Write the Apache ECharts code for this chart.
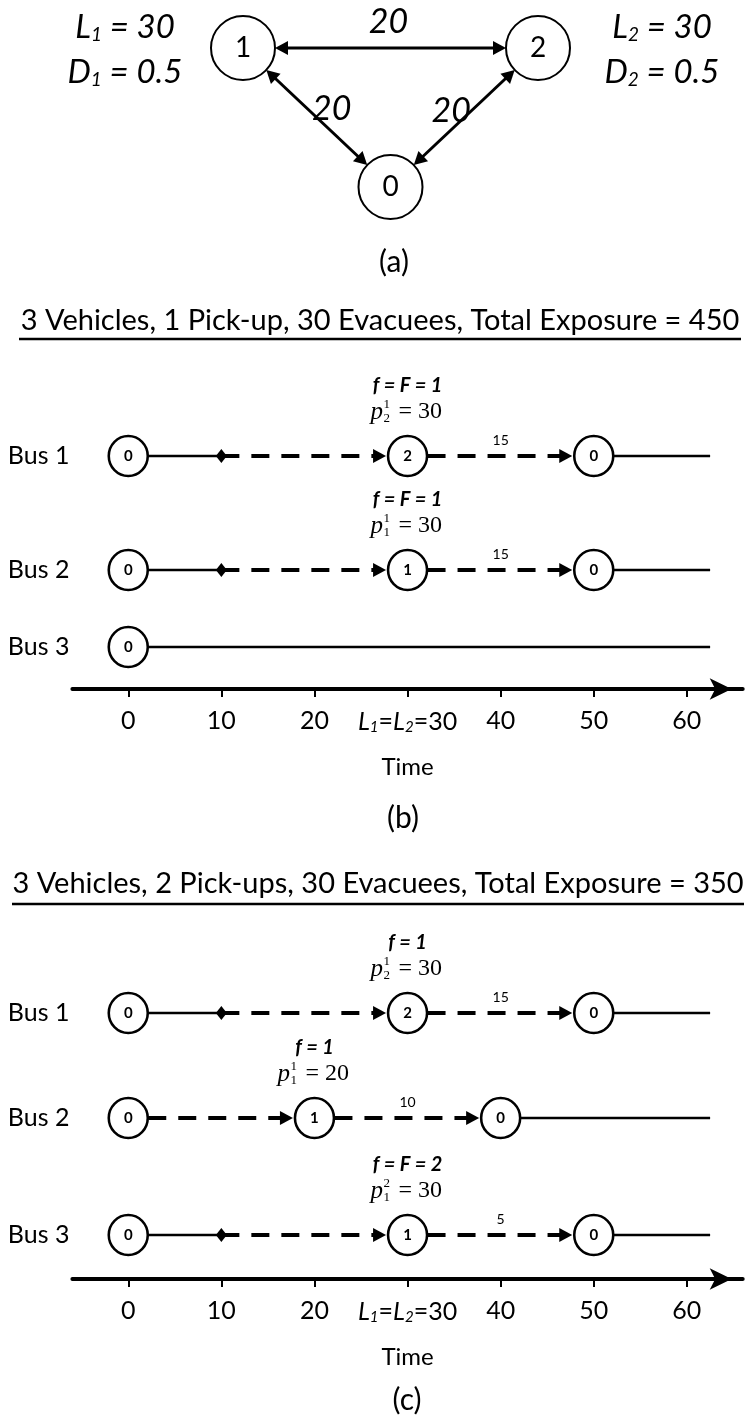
<!DOCTYPE html>
<html><head><meta charset="utf-8">
<script src="https://cdn.jsdelivr.net/npm/echarts@6/dist/echarts.min.js"></script>
<style>html,body{margin:0;padding:0;background:#fff}#c{width:746px;height:1424px}</style>
</head><body><div id="c"></div>
<script>
// ================= DATA =================
// (a) network
const netNodes = ['0', '1', '2'];
const netNodeX = [0.5, 0, 1];
const netNodeY = [0, 1, 1];
const netLinks = [['1', '2'], ['1', '0'], ['2', '0']];
const netTravelTimes = [20, 20, 20];
const evacNodes = ['1', '2'];
const evacLoad = [30, 30];
const evacDelay = [0.5, 0.5];

// time axis
const timeTicks = [0, 10, 20, 30, 40, 50, 60];
const tickLabels = ['0', '10', '20', '{i|L}{s|1}{n|=}{i|L}{s|2}{n|=30}', '40', '50', '60'];
const timeMin = -6, timeMax = 66, horizon = 62.5;
const busNames = ['Bus 1', 'Bus 2', 'Bus 3'];

// (b)
const titleB = '3 Vehicles, 1 Pick-up, 30 Evacuees, Total Exposure = 450';
const stopTimesB = [[0, 30, 50], [0, 30, 50], [0]];
const stopNodesB = [['0', '2', '0'], ['0', '1', '0'], ['0']];
const departTimesB = [[10], [10], []];
const waitLegsB = [[[0, 10], [50, horizon]], [[0, 10], [50, horizon]], [[0, horizon]]];
const travelLegsB = [[[10, 30], [30, 50]], [[10, 30], [30, 50]], []];
const returnTravelB = [15, 15, null];
const pickupTimeB = [30, 30, null];
const pickupTripB = ['f = F = 1', 'f = F = 1', null];
const pickupNodeB = ['2', '1', null];
const pickupFB = ['1', '1', null];
const pickupCountB = [30, 30, null];

// (c)
const titleC = '3 Vehicles, 2 Pick-ups, 30 Evacuees, Total Exposure = 350';
const stopTimesC = [[0, 30, 50], [0, 20, 40], [0, 30, 50]];
const stopNodesC = [['0', '2', '0'], ['0', '1', '0'], ['0', '1', '0']];
const departTimesC = [[10], [], [10]];
const waitLegsC = [[[0, 10], [50, horizon]], [[40, horizon]], [[0, 10], [50, horizon]]];
const travelLegsC = [[[10, 30], [30, 50]], [[0, 20], [20, 40]], [[10, 30], [30, 50]]];
const returnTravelC = [15, 10, 5];
const pickupTimeC = [30, 20, 30];
const pickupTripC = ['f = 1', 'f = 1', 'f = F = 2'];
const pickupNodeC = ['2', '1', '1'];
const pickupFC = ['1', '1', '2'];
const pickupCountC = [30, 20, 30];

// ================= LAYOUT / STYLE =================
const FONT = 'Lato';
const SERIF = '"Liberation Serif", "DejaVu Serif", serif';
const NODE_R = 20, NET_R = 32;
const AH_L = 13, AH_W = 7;
const GL = 72.4, GR = 3.3;

const grid = [], xAxis = [], yAxis = [], series = [];
function addGrid(g, xa, ya) {
  const i = grid.length;
  grid.push(g);
  xAxis.push(Object.assign({ gridIndex: i }, xa));
  yAxis.push(Object.assign({ gridIndex: i }, ya));
  return i;
}
function T(x, y, text, s) {
  return { type: 'text', x: x, y: y, style: Object.assign({ text: text, fill: '#000', verticalAlign: 'middle', textVerticalAlign: 'middle', textAlign: s.align }, s) };
}
function arrowHead(tip, u, L, W) {
  const bx = tip[0] - u[0] * L, by = tip[1] - u[1] * L;
  const n = [-u[1], u[0]];
  return { type: 'polygon', shape: { points: [tip, [bx + n[0] * W, by + n[1] * W], [bx - n[0] * W, by - n[1] * W]] }, style: { fill: '#000' } };
}
const hiddenDot = { color: 'transparent', opacity: 1 };

// ---------- (a) ----------
const ga = addGrid({ left: 243, right: 746 - 538, top: 48, height: 139 },
  { type: 'value', min: 0, max: 1, show: false },
  { type: 'value', min: 0, max: 1, show: false });
const ni = n => netNodes.indexOf(n);
series.push({
  type: 'custom', xAxisIndex: ga, yAxisIndex: ga, clip: false, silent: true, z: 2,
  encode: { x: 0, y: 1 },
  data: netLinks.map(l => [netNodeX[ni(l[0])], netNodeY[ni(l[0])], netNodeX[ni(l[1])], netNodeY[ni(l[1])]]),
  renderItem: function (params, api) {
    const a = api.coord([api.value(0), api.value(1)]);
    const b = api.coord([api.value(2), api.value(3)]);
    const dx = b[0] - a[0], dy = b[1] - a[1], len = Math.hypot(dx, dy);
    const u = [dx / len, dy / len];
    const pa = [a[0] + u[0] * NET_R, a[1] + u[1] * NET_R];
    const pb = [b[0] - u[0] * NET_R, b[1] - u[1] * NET_R];
    return { type: 'group', children: [
      { type: 'line', shape: { x1: pa[0] + u[0] * (AH_L - 2), y1: pa[1] + u[1] * (AH_L - 2), x2: pb[0] - u[0] * (AH_L - 2), y2: pb[1] - u[1] * (AH_L - 2) }, style: { stroke: '#000', lineWidth: 3 } },
      arrowHead(pb, u, AH_L, AH_W),
      arrowHead(pa, [-u[0], -u[1]], AH_L, AH_W)
    ] };
  }
});
series.push({
  type: 'scatter', xAxisIndex: ga, yAxisIndex: ga, symbol: 'circle', symbolSize: 64, silent: true, z: 3,
  data: netNodes.map((n, i) => ({ name: n, value: [netNodeX[i], netNodeY[i]] })),
  itemStyle: { color: '#fff', borderColor: '#000', borderWidth: 2, opacity: 1 },
  label: { show: true, position: 'inside', formatter: '{b}', fontSize: 28, color: '#000', opacity: 1, fontFamily: FONT }
});
const edgeLabelOffset = [[-2, -26], [15, -8], [-13, -6]];
series.push({
  type: 'scatter', xAxisIndex: ga, yAxisIndex: ga, symbolSize: 1, silent: true, z: 4,
  itemStyle: hiddenDot,
  data: netLinks.map((l, i) => ({
    name: String(netTravelTimes[i]),
    value: [(netNodeX[ni(l[0])] + netNodeX[ni(l[1])]) / 2, (netNodeY[ni(l[0])] + netNodeY[ni(l[1])]) / 2],
    label: { offset: edgeLabelOffset[i] }
  })),
  label: { show: true, position: 'inside', formatter: '{b}', fontSize: 34, fontStyle: 'italic', fontFamily: FONT, color: '#000', opacity: 1 }
});
const evacOffset = [[-118, 2], [124, 2]];
series.push({
  type: 'scatter', xAxisIndex: ga, yAxisIndex: ga, symbolSize: 1, silent: true, z: 4,
  itemStyle: hiddenDot,
  data: evacNodes.map((n, i) => ({
    name: n,
    value: [netNodeX[ni(n)], netNodeY[ni(n)]],
    label: {
      offset: evacOffset[i],
      formatter: '{i|L}{s|' + n + '}{i| = ' + evacLoad[i] + '}\n{i|D}{s|' + n + '}{i| = ' + evacDelay[i] + '}'
    }
  })),
  label: {
    show: true, position: 'inside', align: 'center', color: '#000', opacity: 1,
    rich: {
      i: { fontSize: 33, fontStyle: 'italic', fontFamily: FONT, lineHeight: 45, color: '#000' },
      s: { fontSize: 19, fontStyle: 'italic', fontFamily: FONT, padding: [14, 0, 0, 0], color: '#000' }
    }
  }
});

// ---------- timeline panels ----------
function renderLeg(params, api) {
  const a = api.coord([api.value(0), 0]);
  const b = api.coord([api.value(2), 0]);
  if (api.value(3) !== 1) {
    return { type: 'line', shape: { x1: a[0], y1: a[1], x2: b[0], y2: b[1] }, style: { stroke: '#000', lineWidth: 2.5 } };
  }
  const x0 = a[0] + (api.value(4) === 1 ? NODE_R : 0);
  const tip = [b[0] - NODE_R - 1.5, b[1]];
  return { type: 'group', children: [
    { type: 'line', shape: { x1: x0, y1: a[1], x2: tip[0] - AH_L + 1, y2: a[1] }, style: { stroke: '#000', lineWidth: 4, lineDash: [18, 12] } },
    arrowHead(tip, [1, 0], AH_L, AH_W)
  ] };
}

function buildPanel(P) {
  busNames.forEach((bus, r) => {
    const y = P.rowsY[r];
    const g = addGrid({ left: GL, right: GR, top: y - 20, height: 40 },
      { type: 'value', min: timeMin, max: timeMax, show: false },
      { type: 'category', data: [bus], axisLine: { show: false }, axisTick: { show: false }, splitLine: { show: false },
        axisLabel: { fontSize: 25, fontFamily: FONT, color: '#000', margin: 3 } });
    const legs = [];
    P.waitLegs[r].forEach(l => legs.push([l[0], 0, l[1], 0, 0]));
    P.travelLegs[r].forEach(l => legs.push([l[0], 0, l[1], 1, P.stopTimes[r].includes(l[0]) ? 1 : 0]));
    series.push({ type: 'custom', xAxisIndex: g, yAxisIndex: g, data: legs, encode: { x: 0, y: 1 }, renderItem: renderLeg, clip: false, silent: true, z: 2 });
    series.push({
      type: 'scatter', xAxisIndex: g, yAxisIndex: g, symbol: 'circle', symbolSize: [39, 40], silent: true, z: 4,
      data: P.stopTimes[r].map((t, i) => ({ name: P.stopNodes[r][i], value: [t, 0] })),
      itemStyle: { color: '#fff', borderColor: '#000', borderWidth: 2.6, opacity: 1 },
      label: { show: true, position: 'inside', formatter: '{b}', fontSize: 15, fontWeight: 'bold', color: '#000', opacity: 1, fontFamily: FONT }
    });
    if (P.departTimes[r].length) {
      series.push({
        type: 'scatter', xAxisIndex: g, yAxisIndex: g, symbol: 'diamond', symbolSize: [11, 14], silent: true, z: 5,
        data: P.departTimes[r].map(t => [t, 0]), itemStyle: { color: '#000', opacity: 1 }
      });
    }
    if (P.returnTravel[r] != null) {
      const leg = P.travelLegs[r][P.travelLegs[r].length - 1];
      series.push({
        type: 'scatter', xAxisIndex: g, yAxisIndex: g, symbolSize: 1, silent: true, z: 5,
        itemStyle: hiddenDot,
        data: [{ name: String(P.returnTravel[r]), value: [(leg[0] + leg[1]) / 2, 0] }],
        label: { show: true, position: 'inside', offset: [0, -16], formatter: '{b}', fontSize: 14, fontFamily: FONT, color: '#000', opacity: 1 }
      });
    }
    if (P.pickupTime[r] != null) {
      series.push({
        type: 'custom', xAxisIndex: g, yAxisIndex: g, data: [[P.pickupTime[r], 0]], encode: { x: 0, y: 1 }, clip: false, silent: true, z: 6,
        renderItem: function (params, api) {
          const c = api.coord([api.value(0), 0]);
          const x = c[0], yy = c[1];
          return { type: 'group', children: [
            T(x, yy - 70, P.pickupTrip[r], { fontSize: 20, fontWeight: 'bold', fontStyle: 'italic', fontFamily: FONT, align: 'center' }),
            T(x - 37, yy - 44, 'p', { fontSize: 25, fontStyle: 'italic', fontFamily: SERIF, align: 'left' }),
            T(x - 24, yy - 51, P.pickupF[r], { fontSize: 13, fontFamily: SERIF, align: 'left' }),
            T(x - 24, yy - 37, P.pickupNode[r], { fontSize: 13, fontFamily: SERIF, align: 'left' }),
            T(x - 9, yy - 44, '= ' + P.pickupCount[r], { fontSize: 24, fontFamily: SERIF, align: 'left' })
          ] };
        }
      });
    }
  });
  addGrid({ left: GL, right: GR, top: P.axisY - 10, height: 10 },
    {
      type: 'value', min: timeMin, max: timeMax,
      name: 'Time', nameLocation: 'middle', nameGap: 66,
      nameTextStyle: { fontSize: 24, color: '#000', fontFamily: FONT },
      axisLine: { show: true, onZero: false, symbol: ['none', 'arrow'], symbolSize: [16, 22], symbolOffset: [0, -11], lineStyle: { color: '#000', width: 4 } },
      axisTick: { show: true, customValues: timeTicks, length: 8, lineStyle: { color: '#000', width: 2 } },
      axisLabel: {
        show: true, customValues: timeTicks, margin: 19, fontSize: 25, fontFamily: FONT, color: '#000',
        formatter: v => tickLabels[timeTicks.indexOf(v)],
        rich: {
          i: { fontSize: 25, fontStyle: 'italic', fontFamily: FONT, color: '#000' },
          s: { fontSize: 15, fontStyle: 'italic', fontFamily: FONT, color: '#000', padding: [12, 0, 0, 0] },
          n: { fontSize: 25, fontFamily: FONT, color: '#000' }
        }
      },
      splitLine: { show: false }
    },
    { type: 'value', show: false, min: 0, max: 1 });
}

buildPanel({ rowsY: [456, 570, 647], axisY: 689, stopTimes: stopTimesB, stopNodes: stopNodesB, departTimes: departTimesB,
  waitLegs: waitLegsB, travelLegs: travelLegsB, returnTravel: returnTravelB, pickupTime: pickupTimeB, pickupTrip: pickupTripB,
  pickupNode: pickupNodeB, pickupF: pickupFB, pickupCount: pickupCountB });
buildPanel({ rowsY: [1013, 1118, 1235], axisY: 1279, stopTimes: stopTimesC, stopNodes: stopNodesC, departTimes: departTimesC,
  waitLegs: waitLegsC, travelLegs: travelLegsC, returnTravel: returnTravelC, pickupTime: pickupTimeC, pickupTrip: pickupTripC,
  pickupNode: pickupNodeC, pickupF: pickupFC, pickupCount: pickupCountC });

function GT(x, y, text, size) {
  return { type: 'text', x: x, y: y, style: { text: text, fontSize: size, fontFamily: FONT, fill: '#000', align: 'center', verticalAlign: 'middle', textAlign: 'center', textVerticalAlign: 'middle' } };
}
const graphic = [
  GT(394, 262, '(a)', 30),
  GT(380, 321, titleB, 29),
  { type: 'line', shape: { x1: 19, y1: 339, x2: 741, y2: 339 }, style: { stroke: '#000', lineWidth: 2.5 } },
  GT(403, 818, '(b)', 30),
  GT(378, 884, titleC, 29),
  { type: 'line', shape: { x1: 12, y1: 904, x2: 744, y2: 904 }, style: { stroke: '#000', lineWidth: 2.5 } },
  GT(407, 1400, '(c)', 30)
];

const chart = echarts.init(document.getElementById('c'), null, { renderer: 'canvas' });
chart.setOption({
  backgroundColor: '#fff',
  animation: false,
  grid: grid, xAxis: xAxis, yAxis: yAxis, series: series, graphic: graphic
});
</script></body></html>
